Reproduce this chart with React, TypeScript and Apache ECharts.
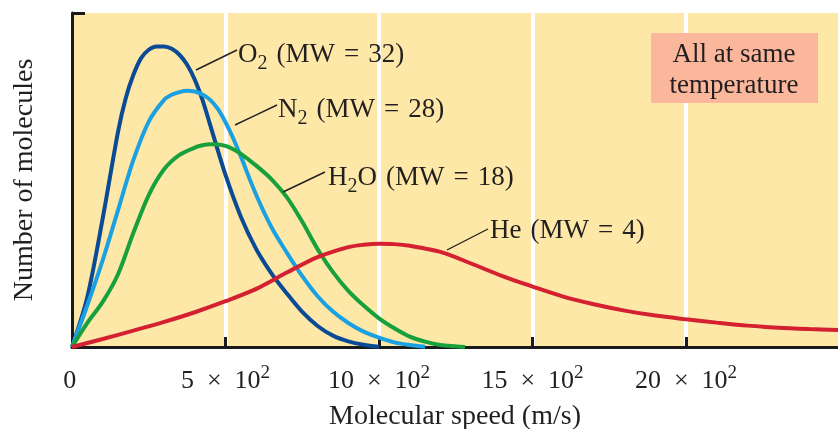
import React, { useEffect, useRef } from "react";
import * as echarts from "echarts";

// Molecular speed (m/s) vs relative number of molecules (arbitrary units, 0-100)
const O2_SPEED = [0, 50, 100, 150, 175, 200, 225, 250, 275, 300, 325, 350, 375, 400, 425, 450, 500, 550, 600, 650, 700, 750, 800, 850, 900, 950, 1000];
const O2_COUNT = [0, 15, 38.5, 64.5, 74.5, 81.5, 86.5, 89, 90, 90, 89.3, 87.5, 84.5, 80, 74, 66.5, 51.5, 39, 29.3, 22, 16, 10.5, 6.3, 3.4, 1.7, 0.7, 0.1];

const N2_SPEED = [0, 50, 100, 150, 200, 250, 300, 325, 350, 375, 400, 425, 450, 475, 500, 525, 550, 600, 650, 700, 750, 800, 850, 900, 950, 1000, 1050, 1100, 1150];
const N2_COUNT = [0, 12.5, 26, 41, 56, 67.5, 74, 75.5, 76.3, 76.7, 76.5, 75.6, 74, 71.3, 67.3, 62.5, 57, 45.5, 35.8, 28.2, 21.2, 15.2, 10.6, 7.2, 4.6, 2.8, 1.4, 0.6, 0.1];

const H2O_SPEED = [0, 50, 100, 150, 200, 250, 300, 350, 400, 425, 450, 475, 500, 525, 550, 600, 650, 700, 750, 800, 850, 900, 950, 1000, 1050, 1100, 1150, 1200, 1250, 1280];
const H2O_COUNT = [0, 7.2, 13.5, 21.8, 34.2, 45.5, 53.2, 57.5, 59.7, 60.4, 60.7, 60.6, 60.2, 59.2, 57.8, 54.3, 50.2, 44.8, 37.5, 29.3, 22.4, 16.8, 12.4, 8.6, 5.6, 3.1, 1.6, 0.6, 0.2, 0];

const HE_SPEED = [0, 100, 200, 300, 400, 500, 600, 700, 800, 900, 950, 1000, 1050, 1100, 1200, 1300, 1400, 1500, 1600, 1700, 1800, 1900, 2000, 2100, 2200, 2300, 2400, 2495];
const HE_COUNT = [0, 2.4, 4.9, 7.5, 10.4, 13.7, 17.4, 22.3, 26.9, 29.9, 30.6, 30.9, 30.8, 30.3, 28.5, 25, 21.3, 18.1, 15.1, 12.8, 10.9, 9.4, 8.3, 7.3, 6.4, 5.8, 5.4, 5.1];

const X_TICKS = [0, 500, 1000, 1500, 2000];
const SERIES_NAMES = ["O2", "N2", "H2O", "He"];
const LABEL_TEXTS = [
  "{m|O}{s|2}{m|\u2004(MW\u2004=\u200432)}",
  "{m|N}{s|2}{m|\u2004(MW\u2004=\u200428)}",
  "{m|H}{s|2}{m|O\u2004(MW\u2004=\u200418)}",
  "{m|He\u2004(MW\u2004=\u20044)}",
];
const NOTE_TEXT = "All at same\ntemperature";
const X_NAME = "Molecular speed (m/s)";
const Y_NAME = "Number of molecules";

const pairs = (xs: number[], ys: number[]) => xs.map((x, i) => [x, ys[i]]);

export default function App() {
  const ref = useRef<HTMLDivElement>(null);
  useEffect(() => {
    const chart = echarts.init(ref.current!, null, { renderer: "svg" });
    const serif = "'Liberation Serif', 'Times New Roman', serif";
    const ink = "#231f20";
    const axisInk = "#1a1a1a";
    const colors = ["#0b4a94", "#1ba1e2", "#17a03c", "#d42030"];
    const xs = [O2_SPEED, N2_SPEED, H2O_SPEED, HE_SPEED];
    const ys = [O2_COUNT, N2_COUNT, H2O_COUNT, HE_COUNT];

    const leaders = [
      [196, 70, 237, 50],
      [235, 125, 277, 105],
      [283, 192, 325, 172],
      [447, 250, 488, 229],
    ];
    const labelPos = [
      [238, 52.7],
      [278, 107.7],
      [328, 176],
      [490, 229],
    ];
    const rich = {
      m: { fontSize: 27, fontFamily: serif, fill: ink },
      s: { fontSize: 20, fontFamily: serif, fill: ink, padding: [18, 0, 0, 0] },
    };

    const graphic: any[] = [
      { type: "rect", shape: { x: 651, y: 33, width: 167, height: 70 }, style: { fill: "#fab79c" }, z: 10 },
      {
        type: "text",
        x: 734,
        y: 68.2,
        z: 11,
        style: { text: NOTE_TEXT, fontSize: 27, fontFamily: serif, fill: ink, align: "center", verticalAlign: "middle", lineHeight: 31 },
      },
    ];
    leaders.forEach((l, i) => {
      graphic.push({
        type: "line",
        shape: { x1: l[0], y1: l[1], x2: l[2], y2: l[3] },
        style: { stroke: ink, lineWidth: 1.4 },
        z: 10,
      });
      graphic.push({
        type: "text",
        x: labelPos[i][0],
        y: labelPos[i][1],
        z: 11,
        style: { text: LABEL_TEXTS[i], rich, align: "left", verticalAlign: "middle", fontSize: 27, fontFamily: serif, fill: ink },
      });
    });

    chart.setOption({
      animation: false,
      grid: {
        left: 72,
        right: 0,
        top: 13,
        bottom: 82,
        show: true,
        backgroundColor: "#fde8a8",
        borderWidth: 0,
        containLabel: false,
        outerBoundsMode: "none",
      },
      xAxis: {
        type: "value",
        min: 0,
        max: 2495,
        interval: 500,
        axisLine: { lineStyle: { color: axisInk, width: 3 } },
        axisTick: { inside: true, length: 10, customValues: X_TICKS, lineStyle: { color: axisInk, width: 3 } },
        axisLabel: {
          margin: 15,
          customValues: X_TICKS,
          formatter: (v: number) => (v === 0 ? "{n|0}{p| }" : `{n|${v / 100}\u2002×\u200210}{p|2}`),
          rich: {
            n: { fontSize: 26, fontFamily: serif, color: ink },
            p: { fontSize: 19, fontFamily: serif, color: ink, padding: [0, 0, 15, 0] },
          },
        },
        splitLine: { show: true, lineStyle: { color: "#ffffff", width: 4 } },
        name: X_NAME,
        nameLocation: "middle",
        nameGap: 53,
        nameTextStyle: { fontSize: 28, fontFamily: serif, color: ink },
      },
      yAxis: {
        type: "value",
        min: 0,
        max: 100,
        interval: 100,
        axisLine: { show: true, lineStyle: { color: axisInk, width: 3 } },
        axisTick: { show: true, inside: true, length: 13, lineStyle: { color: axisInk, width: 3 } },
        axisLabel: { show: false },
        splitLine: { show: false },
        name: Y_NAME,
        nameLocation: "middle",
        nameGap: 36,
        nameTextStyle: { fontSize: 28, fontFamily: serif, color: ink },
      },
      series: SERIES_NAMES.map((name, i) => ({
        type: "line",
        name,
        data: pairs(xs[i], ys[i]),
        smooth: 0.3,
        showSymbol: false,
        lineStyle: { color: colors[i], width: 4 },
        itemStyle: { color: colors[i] },
        z: 3,
      })),
      graphic,
    });
    return () => chart.dispose();
  }, []);
  return <div ref={ref} style={{ position: "fixed", left: 0, top: 0, width: 838, height: 429 }} />;
}
